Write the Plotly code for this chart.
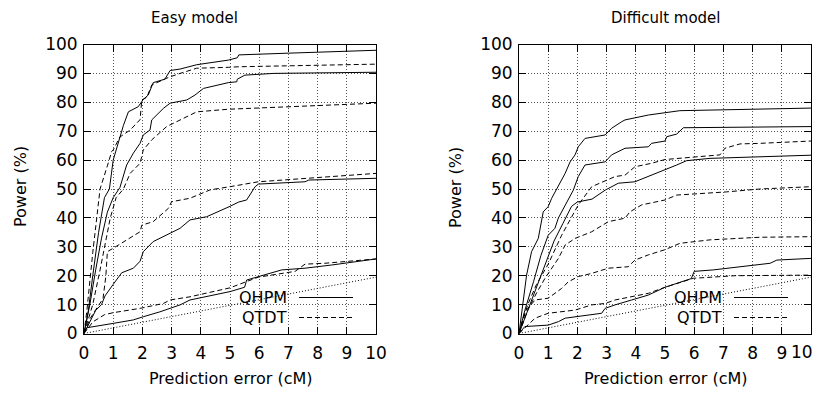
import plotly.graph_objects as go

# ---------------- data ----------------
x_ticks = list(range(0, 11))
x_tick_labels = [str(v) for v in x_ticks]
y_ticks = list(range(0, 101, 10))

# Easy model
easy_qhpm_1_x = [0, 0.15, 0.3, 0.5, 0.7, 0.87, 1.0, 1.21, 1.35, 1.52, 1.86, 2.03, 2.2, 2.37, 2.77, 2.95, 3.29, 3.86, 4.94, 5.25, 5.3, 7.0, 10]
easy_qhpm_1_y = [0, 8, 20, 35, 47, 50, 60, 67, 72, 76.7, 78.5, 81, 82.5, 86.8, 88, 91, 91.5, 93, 94.6, 95.4, 96.4, 97, 98]
easy_qtdt_1_x = [0, 0.1, 0.3, 0.45, 0.55, 0.8, 0.95, 1.0, 1.23, 1.58, 1.92, 1.98, 2.15, 2.32, 2.72, 2.89, 3.29, 3.86, 4.94, 5.3, 10]
easy_qtdt_1_y = [0, 8, 28, 42, 50, 58, 63, 63.5, 68, 70.4, 74, 80.8, 81.7, 86, 87.7, 88.6, 90, 91.8, 92.1, 92.3, 93.2]
easy_qhpm_2_x = [0, 0.2, 0.4, 0.6, 0.8, 1.0, 1.23, 1.46, 1.69, 1.92, 2.03, 2.26, 2.32, 2.72, 2.95, 3.52, 3.8, 4.09, 4.94, 5.23, 5.25, 5.51, 6.5, 10]
easy_qhpm_2_y = [0, 10, 22, 33, 42, 47, 50.5, 58.3, 62.4, 65.8, 68.7, 70.4, 73.9, 77.9, 79.7, 80.8, 82.5, 84.8, 86.8, 87.1, 88, 89.4, 90, 90.4]
easy_qtdt_2_x = [0, 0.3, 0.55, 0.75, 0.9, 1.1, 1.35, 1.58, 1.92, 2.03, 2.32, 2.83, 3.29, 3.63, 3.86, 4.94, 7.0, 10]
easy_qtdt_2_y = [0, 10, 22, 32, 40, 47, 50, 55.4, 58.9, 63.5, 67, 71.6, 73.9, 75.6, 76.7, 77.6, 78.5, 79.7]
easy_qhpm_3_x = [0, 0.15, 0.4, 0.6, 0.72, 1.0, 1.29, 1.69, 1.92, 2.03, 2.37, 2.95, 3.29, 3.63, 4.2, 5.0, 5.3, 5.57, 5.86, 5.97, 7.57, 7.7, 10]
easy_qhpm_3_y = [0, 3, 8, 10, 13, 17, 21, 22.6, 25, 28.3, 31.8, 34.7, 36.4, 39.3, 40.4, 44, 45.5, 46.2, 50.8, 51.7, 52.5, 53.1, 53.7]
easy_qtdt_3_x = [0, 0.2, 0.45, 0.65, 0.75, 0.8, 1.0, 1.58, 1.92, 1.98, 2.37, 2.89, 3.0, 3.63, 4.32, 5.0, 5.97, 10]
easy_qtdt_3_y = [0, 5, 9, 12, 20, 28.3, 29.5, 33, 35.2, 37.5, 38.7, 43.3, 45.6, 46.8, 49.7, 50.8, 52.5, 55.4]
easy_qhpm_4_x = [0, 0.1, 1.0, 1.69, 2.03, 2.6, 3.29, 3.63, 5.0, 5.5, 5.57, 6.77, 7.57, 8.48, 10]
easy_qhpm_4_y = [0, 2, 3.5, 4.7, 5.8, 7.5, 9.9, 11.6, 14.5, 16, 18.5, 22, 22.6, 23.7, 25.8]
easy_qtdt_4_x = [0, 0.3, 0.7, 1.0, 1.92, 2.72, 2.95, 3.63, 5.0, 5.57, 5.97, 7.23, 7.57, 8.25, 10]
easy_qtdt_4_y = [0, 4, 6.5, 7.2, 8.7, 10.4, 11.6, 12.7, 15.8, 18, 19.5, 21.5, 24, 24.3, 25.8]

# Difficult model
diff_qhpm_1_x = [0, 0.1, 0.26, 0.43, 0.66, 0.83, 1.0, 1.12, 1.29, 1.4, 1.58, 1.75, 1.92, 2.03, 2.26, 2.95, 3.17, 3.52, 3.63, 4.43, 5.0, 5.51, 10]
diff_qhpm_1_y = [0, 8, 20.2, 28.3, 32.9, 42.1, 43.9, 46.8, 50, 52, 55.4, 59.4, 61.8, 64.6, 67.5, 68.7, 71, 73.3, 73.9, 75.6, 76.4, 77.1, 78]
diff_qhpm_2_x = [0, 0.2, 0.5, 0.75, 1.0, 1.23, 1.35, 1.58, 1.86, 2.03, 2.26, 2.95, 3.17, 3.63, 4.43, 4.54, 5.0, 5.06, 5.4, 5.63, 10]
diff_qhpm_2_y = [0, 8, 18, 27, 34, 36.4, 40, 44.5, 49.6, 54.3, 58.3, 59.4, 61.8, 64.1, 64.6, 65.8, 66.6, 68.1, 69, 71.2, 71.6]
diff_qtdt_1_x = [0, 0.3, 0.6, 1.0, 1.46, 1.92, 2.03, 2.49, 3.29, 3.63, 3.97, 4.54, 5.0, 6.88, 7.05, 7.57, 8.25, 10]
diff_qtdt_1_y = [0, 10, 17, 24, 34, 42.1, 44.5, 50.8, 54.3, 54.8, 57.7, 58.9, 60.2, 61.8, 64.1, 65.6, 65.8, 66.6]
diff_qhpm_3_x = [0, 0.3, 0.6, 0.9, 1.2, 1.5, 1.8, 2.0, 2.5, 2.95, 3.4, 3.97, 4.43, 5.0, 5.4, 5.74, 6.54, 10]
diff_qhpm_3_y = [0, 8, 16, 24, 32, 38, 44, 45.5, 46.5, 49.6, 52, 52.5, 54.3, 56.6, 58.3, 59.8, 60.6, 61.7]
diff_qtdt_2_x = [0, 0.3, 0.6, 0.89, 1.35, 1.58, 1.92, 2.49, 3.06, 3.63, 3.8, 4.2, 5.0, 5.4, 7.11, 8.25, 10]
diff_qtdt_2_y = [0, 8, 14, 19.1, 26, 30.6, 32.9, 35.2, 38.7, 39.9, 42.1, 44.5, 46.2, 47.9, 49, 50, 50.8]
diff_qtdt_3_x = [0, 0.2, 0.55, 1.0, 1.46, 1.69, 2.03, 2.49, 3.06, 3.74, 3.97, 4.43, 5.0, 5.51, 6.54, 8.25, 10]
diff_qtdt_3_y = [0, 7.5, 11.6, 12.2, 15.6, 17.9, 19.7, 20.8, 22.6, 23.1, 25.4, 27.2, 29, 31.2, 32.4, 33.3, 33.5]
diff_qhpm_4_x = [0, 0.2, 1.0, 1.35, 1.58, 1.92, 2.83, 2.95, 3.29, 3.86, 4.43, 5.0, 5.9, 6.0, 6.65, 8.6, 8.83, 10]
diff_qhpm_4_y = [0, 2.4, 2.9, 4.1, 5.3, 5.8, 7, 8.7, 9.9, 11.6, 13.3, 16, 19, 21.5, 22, 24.3, 25.4, 26]
diff_qtdt_4_x = [0, 0.55, 1.0, 1.92, 2.49, 2.95, 3.29, 3.86, 4.43, 5.0, 5.97, 7.4, 10]
diff_qtdt_4_y = [0, 5.3, 7, 8.1, 9.9, 10.4, 11.6, 12.7, 13.9, 16, 19.1, 20, 20.2]

# chance diagonal
diag_x = [0, 10]
diag_y = [0, 19.5]

panel_titles = ["Easy model", "Difficult model"]
legend_names = ["QHPM", "QTDT"]
x_title = "Prediction error (cM)"
y_title = "Power (%)"

# ---------------- figure ----------------
FONT = "DejaVu Sans"
OFF = 8                      # page body margin of the browser
W, H = 830 - OFF, 395 - 2 * OFF
SOLID = "solid"
DASH = "5px,3px"

fig = go.Figure()

easy = [
    (easy_qhpm_1_x, easy_qhpm_1_y, SOLID), (easy_qtdt_1_x, easy_qtdt_1_y, DASH),
    (easy_qhpm_2_x, easy_qhpm_2_y, SOLID), (easy_qtdt_2_x, easy_qtdt_2_y, DASH),
    (easy_qhpm_3_x, easy_qhpm_3_y, SOLID), (easy_qtdt_3_x, easy_qtdt_3_y, DASH),
    (easy_qhpm_4_x, easy_qhpm_4_y, SOLID), (easy_qtdt_4_x, easy_qtdt_4_y, DASH),
]
diff = [
    (diff_qhpm_1_x, diff_qhpm_1_y, SOLID), (diff_qhpm_2_x, diff_qhpm_2_y, SOLID),
    (diff_qtdt_1_x, diff_qtdt_1_y, DASH), (diff_qhpm_3_x, diff_qhpm_3_y, SOLID),
    (diff_qtdt_2_x, diff_qtdt_2_y, DASH), (diff_qtdt_3_x, diff_qtdt_3_y, DASH),
    (diff_qhpm_4_x, diff_qhpm_4_y, SOLID), (diff_qtdt_4_x, diff_qtdt_4_y, DASH),
]

for (xs, ys, d) in easy:
    fig.add_trace(go.Scatter(x=xs, y=ys, mode="lines", xaxis="x", yaxis="y",
                             line=dict(color="black", width=1, dash=d), hoverinfo="skip"))
fig.add_trace(go.Scatter(x=diag_x, y=diag_y, mode="lines", xaxis="x", yaxis="y",
                         line=dict(color="black", width=1, dash="1px,2px"), hoverinfo="skip"))
for (xs, ys, d) in diff:
    fig.add_trace(go.Scatter(x=xs, y=ys, mode="lines", xaxis="x2", yaxis="y2",
                             line=dict(color="black", width=1, dash=d), hoverinfo="skip"))
fig.add_trace(go.Scatter(x=diag_x, y=diag_y, mode="lines", xaxis="x2", yaxis="y2",
                         line=dict(color="black", width=1, dash="1px,2px"), hoverinfo="skip"))

def px_x(p):
    return (p - OFF) / W

def px_y(p):
    return 1 - (p - OFF) / H

common = dict(ticks="inside", ticklen=7, tickcolor="black", tickwidth=1,
              showline=True, linecolor="black", linewidth=1, mirror="ticks",
              showgrid=True, gridcolor="#555", gridwidth=1, griddash="1px,2px",
              zeroline=False, automargin=False, ticklabeloverflow="allow",
              tickfont=dict(family=FONT, size=17, color="black"))

left_x = [84, 376]
right_x = [519, 811]
top_y, bot_y = 44.5, 333.5
ydom = [px_y(bot_y), px_y(top_y)]

# right panel: last x label drawn separately so it is not cut by the window edge
right_tick_labels = x_tick_labels[:-1] + [""]

fig.update_layout(
    width=W, height=H, margin=dict(l=0, r=0, t=0, b=0, autoexpand=False),
    paper_bgcolor="white", plot_bgcolor="white", showlegend=False,
    font=dict(family=FONT, color="black"),
    xaxis=dict(domain=[px_x(left_x[0]), px_x(left_x[1])], range=[0, 10], tickvals=x_ticks,
               ticktext=x_tick_labels, anchor="y", ticklabelstandoff=4, **common),
    yaxis=dict(domain=ydom, range=[0, 100], tickvals=y_ticks, anchor="x",
               ticklabelstandoff=2, **common),
    xaxis2=dict(domain=[px_x(right_x[0]), px_x(right_x[1])], range=[0, 10], tickvals=x_ticks,
                ticktext=right_tick_labels, anchor="y2", ticklabelstandoff=4, **common),
    yaxis2=dict(domain=ydom, range=[0, 100], tickvals=y_ticks, anchor="x2",
                ticklabelstandoff=2, **common),
)

ann = []
shapes = []
for i, (x0, x1) in enumerate([left_x, right_x]):
    cx = (x0 + x1) / 2
    title_cx = [194, 666][i]
    ann.append(dict(text=panel_titles[i], x=px_x(title_cx), y=px_y(18), xref="paper", yref="paper",
                    showarrow=False, xanchor="center", yanchor="middle",
                    font=dict(family=FONT, size=15, color="black")))
    ann.append(dict(text=x_title, x=px_x(cx), y=px_y(378), xref="paper", yref="paper",
                    showarrow=False, xanchor="center", yanchor="middle",
                    font=dict(family=FONT, size=16, color="black")))
    ann.append(dict(text=y_title, x=px_x(x0 - 64), y=px_y(187), xref="paper", yref="paper",
                    showarrow=False, textangle=-90, xanchor="center", yanchor="middle",
                    font=dict(family=FONT, size=16, color="black")))
    # legend
    for j, (name, d) in enumerate(zip(legend_names, [SOLID, DASH])):
        ly = [297.5, 317.5][j]
        ann.append(dict(text=name, x=px_x(x0 + 205), y=px_y(ly), xref="paper", yref="paper",
                        showarrow=False, xanchor="right", yanchor="middle",
                        font=dict(family=FONT, size=16, color="black")))
        shapes.append(dict(type="line", xref="paper", yref="paper",
                           x0=px_x(x0 + 215), x1=px_x(x0 + 269), y0=px_y(ly), y1=px_y(ly),
                           line=dict(color="black", width=1, dash=d)))

# last tick label of the right panel
ann.append(dict(text=x_tick_labels[-1], x=px_x(815), y=px_y(352), xref="paper", yref="paper",
                showarrow=False, xanchor="right", yanchor="middle",
                font=dict(family=FONT, size=17, color="black")))

fig.update_layout(annotations=ann, shapes=shapes)
fig.write_html("out.html")
